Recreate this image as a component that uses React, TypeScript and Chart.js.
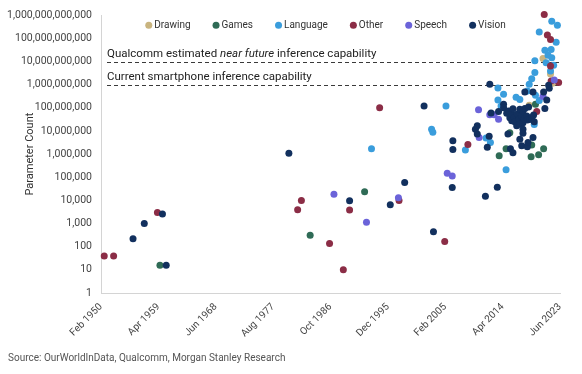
import React, { useEffect, useRef } from "react";
import { Chart, registerables } from "chart.js";

Chart.register(...registerables);

type Pt = [number, number];

const seriesNames = ["Drawing", "Games", "Language", "Other", "Speech", "Vision"];
const seriesColors = ["#C9B47F", "#2F6B56", "#3A9DDC", "#8B2D46", "#6B63D9", "#12305E"];

const drawing: Pt[] = [[2018.5, 1.3e8], [2020.7, 1.35e10], [2021.9, 2.9e9], [2022.2, 1.15e9]];

const games: Pt[] = [
  [1959.5, 16], [1983.5, 310], [1992.2, 24000], [2013.7, 8.5e5], [2014.8, 1.7e6], [2015.4, 8.4e6],
  [2018.8, 7.8e5], [2018.9, 2.5e6], [2019.5, 1.45e8], [2020.0, 9.5e5], [2020.8, 1.7e6],
];

const language: Pt[] = [
  [1993.3, 1.7e6], [2002.9, 1.2e7], [2003.1, 8.9e6], [2005.2, 1.2e8], [2008.3, 1.5e6], [2011.6, 5e6],
  [2012.3, 3.2e6], [2013.5, 7.2e8], [2013.5, 2.2e8], [2014.0, 1.2e8], [2014.4, 3.9e8], [2014.8, 2.1e5],
  [2016.4, 2.9e8], [2017.0, 2.3e8], [2018.2, 5.4e8], [2018.5, 1.05e9], [2018.9, 1.8e9], [2019.3, 1.9e7],
  [2019.4, 3.4e9], [2019.4, 1.1e10], [2019.5, 3.5e8], [2020.1, 2.1e8], [2020.1, 1.9e11], [2021.0, 3.1e10],
  [2021.2, 9e9], [2021.5, 1.9e10], [2021.9, 3.9e9], [2022.0, 3.3e10], [2022.1, 1.45e10], [2022.1, 5.5e11],
  [2022.4, 6.9e9], [2022.8, 6.9e10], [2023.0, 3.7e11],
];

const other: Pt[] = [
  [1950.6, 40], [1952.1, 40], [1959.1, 3000], [1981.5, 4000], [1982.1, 10000], [1986.6, 137],
  [1988.8, 10], [1989.8, 3900], [1994.6, 1e8], [1997.7, 1e4], [2005.0, 170], [2008.7, 2.6e6],
  [2019.7, 6.9e7], [2020.9, 1.07e12], [2021.4, 1.4e11], [2021.9, 8.9e10], [2021.9, 6.4e9],
  [2022.0, 1.45e9], [2023.2, 1.25e9],
];

const speech: Pt[] = [
  [1987.3, 18600], [1992.5, 1130], [1997.6, 13000], [2005.4, 1.5e5], [2006.2, 1.15e5], [2010.4, 8.2e7],
  [2010.5, 5.3e6], [2012.2, 5.1e7], [2012.9, 5.1e7], [2013.6, 3.2e7], [2020.7, 3.1e8], [2022.5, 1.6e9],
];

const vision: Pt[] = [
  [1955.2, 220], [1957.0, 1000], [1959.9, 2600], [1960.5, 16], [1980.1, 1.1e6], [1989.8, 9700],
  [1996.3, 6500], [1998.6, 59000], [2001.7, 1.2e8], [2003.2, 440], [2006.2, 36000], [2006.3, 3.8e6],
  [2006.3, 1.6e6], [2009.9, 1.2e7], [2010.2, 1.7e7], [2010.2, 7.4e6], [2011.5, 15000], [2011.8, 2e6],
  [2012.1, 5.9e6], [2012.2, 1.05e9], [2012.4, 6e7], [2013.4, 37000], [2013.6, 7e7], [2014.4, 1.45e8],
  [2014.4, 1.0e8], [2014.9, 5.9e7], [2015.1, 7.4e6], [2015.2, 7.4e7], [2015.4, 3.7e7], [2015.5, 1.7e6],
  [2015.7, 5.4e7], [2015.7, 2.8e7], [2015.9, 9.1e7], [2015.9, 1.15e6], [2016.1, 3.8e7], [2016.2, 2.5e7],
  [2016.5, 1.7e7], [2016.6, 5.4e7], [2016.9, 3.2e7], [2017.0, 8.8e7], [2017.0, 2e7], [2017.0, 4.4e6],
  [2017.3, 4.5e7], [2017.3, 2.3e6], [2017.5, 7.4e7], [2017.5, 2.3e7], [2017.5, 1.2e7], [2017.5, 8e6],
  [2017.7, 3.4e7], [2017.8, 9.3e7], [2017.8, 4.9e8], [2018.1, 4.5e7], [2018.2, 3e7], [2018.2, 2.1e6],
  [2018.3, 3.2e6], [2018.4, 1.1e8], [2018.6, 3.2e7], [2018.9, 3.8e7], [2018.9, 3.2e7], [2019.1, 4.9e8],
  [2019.1, 5.3e6], [2019.2, 4.9e7], [2019.3, 2.5e7], [2020.8, 4.9e8], [2021.0, 9.3e7], [2021.3, 2.2e8],
  [2021.6, 9.6e8], [2021.7, 7e8],
];

const seriesData: Pt[][] = [drawing, games, language, other, speech, vision];

const xTickValues = [1950.0833, 1959.25, 1968.4167, 1977.5833, 1986.75, 1995.9167, 2005.0833, 2014.25, 2023.4167];
const xTickLabels = ["Feb 1950", "Apr 1959", "Jun 1968", "Aug 1977", "Oct 1986", "Dec 1995", "Feb 2005", "Apr 2014", "Jun 2023"];
const yTickValues = [1, 10, 100, 1e3, 1e4, 1e5, 1e6, 1e7, 1e8, 1e9, 1e10, 1e11, 1e12];

const thresholdValues = [1e10, 1e9];
const thresholdTexts: [string, boolean][][] = [
  [["Qualcomm estimated ", false], ["near future", true], [" inference capability", false]],
  [["Current smartphone inference capability", false]],
];

const yTitle = "Parameter Count";
const sourceText = "Source: OurWorldInData, Qualcomm, Morgan Stanley Research";
const FONT = "Roboto";

const overlayPlugin = {
  id: "overlay",
  beforeDatasetsDraw(chart: any) {
    const { ctx, chartArea, scales } = chart;
    ctx.save();
    thresholdValues.forEach((v, i) => {
      const y = Math.round(scales.y.getPixelForValue(v)) + 0.5;
      ctx.strokeStyle = "#3a3a3a";
      ctx.lineWidth = 1.2;
      ctx.setLineDash([4, 3]);
      ctx.beginPath();
      ctx.moveTo(chartArea.left + 6, y);
      ctx.lineTo(chartArea.right, y);
      ctx.stroke();
      ctx.setLineDash([]);
      let x = chartArea.left + 6;
      ctx.fillStyle = "#222";
      ctx.textBaseline = "middle";
      ctx.textAlign = "left";
      thresholdTexts[i].forEach(([t, it]) => {
        ctx.font = `${it ? "italic " : ""}11.5px ${FONT}`;
        ctx.fillText(t, x, y - 8);
        x += ctx.measureText(t).width;
      });
    });
    ctx.restore();
  },
  afterDraw(chart: any) {
    const { ctx, chartArea } = chart;
    ctx.save();
    ctx.font = `10px ${FONT}`;
    ctx.textBaseline = "middle";
    ctx.textAlign = "left";
    const r = 3.5, gapText = 5.5, gapItem = 25.5;
    const widths = seriesNames.map((n) => ctx.measureText(n).width);
    let total = r;
    widths.forEach((w, i) => {
      total += gapText + w + (i < widths.length - 1 ? gapItem : 0);
    });
    let x = (chartArea.left + chartArea.right) / 2 - 5 - total / 2 + r;
    const ly = chartArea.top + 10;
    seriesNames.forEach((n, i) => {
      ctx.fillStyle = seriesColors[i];
      ctx.beginPath();
      ctx.arc(x, ly, r, 0, Math.PI * 2);
      ctx.fill();
      ctx.fillStyle = "#333";
      ctx.fillText(n, x + gapText, ly);
      x += gapText + widths[i] + gapItem;
    });
    ctx.save();
    ctx.translate(30, (chartArea.top + chartArea.bottom) / 2);
    ctx.rotate(-Math.PI / 2);
    ctx.font = `11px ${FONT}`;
    ctx.textAlign = "center";
    ctx.fillStyle = "#333";
    ctx.fillText(yTitle, 0, 0);
    ctx.restore();
    ctx.font = `10px ${FONT}`;
    ctx.fillStyle = "#555";
    ctx.textAlign = "left";
    ctx.fillText(sourceText, 8, chart.height - 16);
    ctx.restore();
  },
};

export default function App() {
  const ref = useRef<HTMLCanvasElement | null>(null);
  useEffect(() => {
    if (!ref.current) return;
    const datasets = seriesNames.map((name, i) => ({
      label: name,
      data: seriesData[i].map(([x, y]) => ({ x, y })),
      backgroundColor: seriesColors[i],
      borderColor: seriesColors[i],
      pointRadius: 3.5,
      pointHoverRadius: 3.5,
      borderWidth: 0,
      clip: false as any,
      order: seriesNames.length - 1 - i,
    }));
    const chart = new Chart(ref.current, {
      type: "scatter",
      data: { datasets },
      options: {
        animation: false,
        responsive: false,
        devicePixelRatio: 1,
        layout: { padding: { top: 14, right: 22, left: 0, bottom: 0 } },
        plugins: { legend: { display: false }, tooltip: { enabled: false } },
        scales: {
          x: {
            type: "linear",
            min: xTickValues[0],
            max: xTickValues[xTickValues.length - 1],
            afterBuildTicks: (s: any) => {
              s.ticks = xTickValues.map((v) => ({ value: v }));
            },
            afterFit: (s: any) => {
              s.height = 81;
            },
            ticks: {
              autoSkip: false,
              minRotation: 45,
              maxRotation: 45,
              padding: 8,
              color: "#444",
              font: { family: FONT, size: 10 },
              callback: (_v: any, i: number) => xTickLabels[i],
            },
            grid: { display: false, drawTicks: false },
            border: { display: true, color: "#d4d4d4", width: 1 },
          },
          y: {
            type: "logarithmic",
            min: 1,
            max: 1e12,
            afterBuildTicks: (s: any) => {
              s.ticks = yTickValues.map((v) => ({ value: v }));
            },
            afterFit: (s: any) => {
              s.width = 101;
            },
            ticks: {
              autoSkip: false,
              padding: 9,
              color: "#444",
              font: { family: FONT, size: 10.5 },
              callback: (v: any) => Number(v).toLocaleString("en-US"),
            },
            grid: { display: false, drawTicks: false },
            border: { display: true, color: "#d4d4d4", width: 1 },
          },
        },
      },
      plugins: [overlayPlugin],
    });
    return () => chart.destroy();
  }, []);
  return (
    <div style={{ position: "absolute", left: 0, top: 0, width: 582, height: 374, background: "#fff" }}>
      <canvas ref={ref} width={582} height={374} style={{ display: "block" }} />
    </div>
  );
}
